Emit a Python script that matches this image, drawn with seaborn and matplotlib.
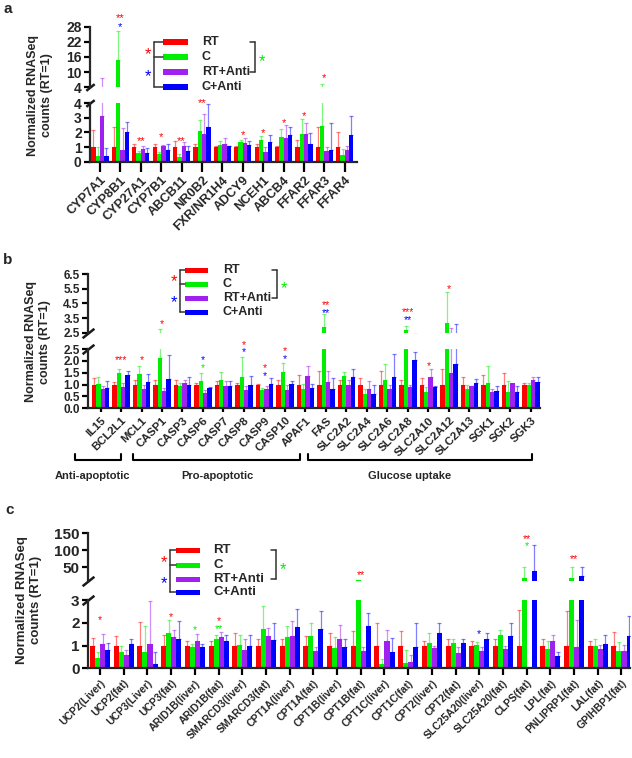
import numpy as np
import pandas as pd
import matplotlib
matplotlib.use("Agg")
import matplotlib.pyplot as plt
import matplotlib.transforms as mtransforms
from matplotlib.lines import Line2D
from matplotlib.patches import Rectangle
import seaborn as sns

# groups and colours
groups = ["RT", "C", "RT+Anti", "C+Anti"]
colors = ["#FF0000", "#00EE00", "#A020F0", "#0000FF"]

# ---- panel a : bile acid genes (mean, and mean+SD as *_hi)
genes_a = ["CYP7A1", "CYP8B1", "CYP27A1", "CYP7B1", "ABCB11", "NR0B2", "FXR/NR1H4",
           "ADCY9", "NCEH1", "ABCB4", "FFAR2", "FFAR3", "FFAR4"]
rt_a = [1.0] * 13
rt_a_hi = [2.17, 2.4, 1.2, 1.2, 1.4, 1.2, 1.1, 1.1, 1.2, 1.1, 1.48, 2.4, 2.03]
c_a = [0.4, 14.8, 0.6, 0.52, 0.3, 2.12, 1.12, 1.32, 1.48, 1.66, 1.9, 2.44, 0.45]
c_a_hi = [1.0, 26.4, 0.75, 0.65, 0.5, 2.85, 1.45, 1.5, 1.77, 2.24, 2.9, 5.4, 0.85]
rta_a = [3.15, 0.8, 0.85, 1.05, 1.08, 1.9, 1.18, 1.28, 0.69, 1.62, 1.9, 0.75, 0.8]
rta_a_hi = [7.7, 2.3, 1.05, 1.15, 1.35, 3.3, 1.65, 1.65, 1.0, 2.5, 2.67, 1.0, 1.07]
ca_a = [0.38, 2.02, 0.6, 0.8, 0.7, 2.4, 1.05, 1.12, 1.37, 1.8, 1.2, 0.8, 1.83]
ca_a_hi = [0.95, 2.75, 0.95, 1.2, 1.05, 3.95, 1.1, 1.45, 1.83, 2.4, 1.94, 2.67, 3.1]
stars_a = [("CYP8B1", "**", "RT", "hi", 32.6), ("CYP8B1", "*", "C+Anti", "hi", 29.3),
           ("CYP27A1", "**", "RT", "lo", 1.62), ("CYP7B1", "*", "RT", "lo", 1.9),
           ("ABCB11", "**", "RT", "lo", 1.62), ("NR0B2", "**", "RT", "lo", 4.27),
           ("ADCY9", "*", "RT", "lo", 2.05), ("NCEH1", "*", "RT", "lo", 2.22),
           ("ABCB4", "*", "RT", "lo", 2.86), ("FFAR2", "*", "RT", "lo", 3.36),
           ("FFAR3", "*", "RT", "hi", 8.9)]

# ---- panel b : apoptosis / glucose uptake genes
genes_b = ["IL15", "BCL2L1", "MCL1", "CASP1", "CASP3", "CASP6", "CASP7", "CASP8", "CASP9",
           "CASP10", "APAF1", "FAS", "SLC2A2", "SLC2A4", "SLC2A6", "SLC2A8", "SLC2A10",
           "SLC2A12", "SLC2A13", "SGK1", "SGK2", "SGK3"]
rt_b = [1.0] * 22
rt_b_hi = [1.28, 1.1, 1.2, 1.2, 1.2, 1.07, 1.14, 1.07, 1.03, 1.2, 1.42, 1.57, 1.2, 1.28,
           1.57, 1.2, 1.28, 1.67, 1.3, 1.42, 1.5, 1.07]
c_b = [1.02, 1.48, 1.45, 2.12, 0.95, 1.17, 1.18, 1.3, 0.77, 1.52, 0.82, 2.91, 1.35, 0.62,
       1.18, 2.68, 0.67, 3.14, 0.83, 1.07, 0.7, 1.0]
c_b_hi = [1.33, 1.64, 1.8, 2.75, 1.07, 1.5, 1.52, 2.18, 0.85, 1.93, 1.03, 3.76, 1.52, 0.81,
          1.88, 2.96, 0.9, 5.27, 1.0, 1.78, 1.14, 1.07]
rta_b = [0.8, 0.9, 0.83, 0.75, 1.05, 0.65, 0.95, 0.78, 0.8, 0.78, 1.35, 1.1, 1.0, 0.82,
         0.82, 0.88, 1.32, 1.48, 0.92, 0.7, 1.07, 1.18]
rta_b_hi = [0.93, 1.07, 1.0, 0.85, 1.2, 0.78, 1.14, 0.93, 0.93, 1.0, 1.8, 1.57, 1.2, 1.14,
            1.0, 1.0, 1.64, 2.8, 0.93, 0.81, 1.07, 1.33]
ca_b = [0.87, 1.4, 1.1, 1.25, 1.0, 0.85, 0.95, 1.0, 1.02, 1.02, 0.87, 0.8, 1.3, 0.62,
        1.32, 2.02, 0.9, 1.85, 1.07, 0.72, 0.7, 1.1]
ca_b_hi = [1.14, 1.57, 1.45, 2.24, 1.33, 0.88, 1.14, 1.38, 1.28, 1.17, 1.03, 1.28, 1.67, 1.0,
           2.28, 2.38, 0.93, 3.1, 1.24, 0.95, 0.93, 1.33]
stars_b = [("BCL2L1", "***", "RT", "lo", 2.18), ("MCL1", "*", "RT", "lo", 2.18),
           ("CASP1", "*", "RT", "hi", 3.32), ("CASP6", "*", "C+Anti", "lo", 2.16),
           ("CASP6", "*", "C", "lo", 1.81), ("CASP8", "*", "RT", "lo", 2.8),
           ("CASP8", "*", "C+Anti", "lo", 2.49), ("CASP9", "*", "RT", "lo", 1.82),
           ("CASP9", "*", "C+Anti", "lo", 1.5), ("CASP10", "*", "RT", "lo", 2.53),
           ("CASP10", "*", "C+Anti", "lo", 2.2), ("FAS", "**", "RT", "hi", 4.58),
           ("FAS", "**", "C+Anti", "hi", 4.03), ("SLC2A8", "***", "RT", "hi", 4.08),
           ("SLC2A8", "**", "C+Anti", "hi", 3.53), ("SLC2A10", "*", "RT", "lo", 1.91),
           ("SLC2A12", "*", "RT", "hi", 5.65)]
categories_b = ["Anti-apoptotic", "Pro-apoptotic", "Glucose uptake"]

# ---- panel c : thermogenesis / lipid genes
genes_c = ["UCP2(Liver)", "UCP2(fat)", "UCP3(Liver)", "UCP3(fat)", "ARID1B(liver)",
           "ARID1B(fat)", "SMARCD3(liver)", "SMARCD3(fat)", "CPT1A(liver)", "CPT1A(fat)",
           "CPT1B(liver)", "CPT1B(fat)", "CPT1C(liver)", "CPT1C(fat)", "CPT2(liver)",
           "CPT2(fat)", "SLC25A20(liver)", "SLC25A20(fat)", "CLPS(fat)", "LPL(fat)",
           "PNLIPRP1(fat)", "LAL(fat)", "GPIHBP1(fat)"]
rt_c = [1.0] * 23
rt_c_hi = [1.34, 1.41, 2.05, 1.45, 1.18, 1.18, 1.56, 1.3, 1.3, 1.41, 1.53, 1.62, 1.97, 1.62,
           1.18, 1.3, 1.22, 1.3, 2.55, 1.3, 2.5, 1.22, 1.58]
c_c = [0.45, 0.73, 0.73, 1.55, 0.95, 1.27, 1.03, 1.72, 1.38, 1.42, 0.88, 12.0, 0.19, 0.25,
       1.12, 1.1, 1.03, 1.46, 17.6, 0.83, 17.6, 0.98, 0.76]
c_c_hi = [0.73, 1.0, 1.85, 2.1, 1.08, 1.45, 1.45, 2.72, 1.85, 1.97, 1.39, 12.0, 0.41, 0.8,
          1.53, 1.3, 1.15, 1.7, 51.8, 1.2, 50.0, 1.28, 1.15]
rta_c = [1.05, 0.57, 1.06, 1.37, 1.22, 1.37, 0.8, 1.43, 1.42, 0.77, 1.28, 0.77, 1.19, 0.29,
         0.87, 0.66, 0.76, 0.85, 0.0, 1.2, 0.95, 0.85, 0.76]
rta_c_hi = [1.5, 0.8, 2.95, 1.7, 1.5, 1.58, 1.27, 1.75, 2.07, 0.92, 1.9, 0.92, 1.69, 0.6,
            0.98, 0.92, 0.92, 0.98, 0.0, 1.45, 2.1, 1.02, 1.02]
ca_c = [0.82, 1.06, 0.17, 1.27, 0.93, 1.22, 1.0, 1.24, 1.82, 1.72, 0.93, 1.87, 0.7, 0.92,
        1.53, 1.1, 1.3, 1.4, 40.0, 0.54, 24.4, 1.05, 1.42]
ca_c_hi = [1.12, 1.3, 0.7, 2.06, 1.05, 1.45, 1.47, 1.97, 2.6, 2.53, 1.27, 2.45, 1.32, 1.97,
           2.0, 1.3, 1.53, 1.97, 115.6, 0.7, 51.8, 1.45, 2.28]
stars_c = [("UCP2(Liver)", "*", "RT", "lo", 2.26), ("UCP3(fat)", "*", "RT", "lo", 2.37),
           ("ARID1B(liver)", "*", "C", "lo", 1.82), ("ARID1B(fat)", "*", "RT", "lo", 2.22),
           ("ARID1B(fat)", "**", "C", "lo", 1.87), ("CPT1B(fat)", "**", "RT", "hi", 35.3),
           ("SLC25A20(liver)", "*", "C+Anti", "lo", 1.65), ("CLPS(fat)", "**", "RT", "hi", 143),
           ("CLPS(fat)", "*", "C", "hi", 120.6), ("PNLIPRP1(fat)", "**", "RT", "hi", 84)]

ylabel = "Normalized RNASeq\ncounts (RT=1)"

sns.set_theme(style="ticks")
plt.rcParams["font.family"] = ["Liberation Sans", "DejaVu Sans"]
plt.rcParams["font.weight"] = "bold"
plt.rcParams["axes.linewidth"] = 1.6

W, H = 632, 758
fig = plt.figure(figsize=(W / 100, H / 100), dpi=100)
# pixel coordinates, origin top-left
pix = mtransforms.Affine2D().scale(1 / W, -1 / H).translate(0, 1) + fig.transFigure


def px_axes(x0, y0, x1, y1):
    return fig.add_axes([x0 / W, 1 - y1 / H, (x1 - x0) / W, (y1 - y0) / H])


def draw_bars(ax, genes, means, his):
    df = pd.DataFrame({"gene": genes * 4,
                       "group": np.repeat(groups, len(genes)),
                       "value": np.concatenate(means)})
    sns.barplot(data=df, x="gene", y="value", hue="group", order=genes, hue_order=groups,
                palette=colors, width=0.85, errorbar=None, saturation=1, legend=False,
                linewidth=0, ax=ax)
    bars = list(ax.containers)[:4]
    for cont, m, hi, col in zip(bars, means, his, colors):
        xs = np.array([p.get_x() + p.get_width() / 2 for p in cont])
        m = np.asarray(m, float)
        hi = np.asarray(hi, float)
        keep = hi > m
        ax.errorbar(xs[keep], m[keep], yerr=[np.zeros(keep.sum()), (hi - m)[keep]],
                    fmt="none", ecolor=col, alpha=0.5, elinewidth=0.9, capsize=1.2,
                    capthick=0.9)
    ax.set_xlabel("")
    ax.set_ylabel("")


def panel(genes, means, his, box_hi, box_lo, xlim, ylim_hi, ylim_lo, yt_hi, yt_lo,
          fmt, tick_fs, xlab_fs, xtick_len, brk):
    ax_hi = px_axes(*box_hi)
    ax_lo = px_axes(*box_lo)
    for ax, yl, yt in ((ax_hi, ylim_hi, yt_hi), (ax_lo, ylim_lo, yt_lo)):
        draw_bars(ax, genes, means, his)
        ax.set_xlim(*xlim)
        ax.set_ylim(*yl)
        ax.set_yticks(yt)
        ax.set_yticklabels([fmt.format(v) for v in yt], fontsize=tick_fs, fontweight="bold")
        ax.tick_params(axis="y", length=4, width=1.6, pad=2, color="black")
        ax.set_facecolor("none")
        sns.despine(ax=ax)
    ax_hi.spines["bottom"].set_visible(False)
    ax_hi.tick_params(axis="x", bottom=False, labelbottom=False)
    ax_lo.set_xticks(range(len(genes)))
    ax_lo.set_xticklabels(genes, rotation=45, ha="right", rotation_mode="anchor",
                          fontsize=xlab_fs, fontweight="bold")
    ax_lo.tick_params(axis="x", length=xtick_len, width=1.6, pad=2, color="black")
    # axis break marks
    kw = dict(marker=[(-1, -0.8), (1, 0.8)], markersize=brk, mew=1.8, color="k",
              linestyle="none", clip_on=False)
    ax_hi.plot([0], [0], transform=ax_hi.transAxes, **kw)
    ax_lo.plot([0], [1], transform=ax_lo.transAxes, **kw)
    return ax_hi, ax_lo


def add_stars(ax_hi, ax_lo, genes, stars, fs):
    for gene, s, grp, where, y in stars:
        ax = ax_hi if where == "hi" else ax_lo
        tr = mtransforms.offset_copy(ax.transData, fig=fig, y=-0.575 * fs, units="points")
        ax.text(genes.index(gene), y, s, color=colors[groups.index(grp)], fontsize=fs,
                fontweight="normal", ha="center", va="baseline", transform=tr)


def star_at(x, y, col, fs):
    fig.text(x, y + 0.575 * fs * 100 / 72, "*", color=col, fontsize=fs, fontweight="normal",
             ha="center", va="baseline", transform=pix)


def legend(x0, x1, ys, h, tx, lb, rb, fs=9, sfs=12):
    for y, col, g in zip(ys, colors, groups):
        fig.add_artist(Rectangle((x0, y - h / 2), x1 - x0, h, transform=pix, color=col, lw=0))
        fig.text(tx, y, g, transform=pix, va="center", ha="left", fontsize=fs,
                 fontweight="bold")
    lk = dict(transform=pix, color="#333333", lw=1.1)
    fig.add_artist(Line2D([lb, lb], [ys[0], ys[3]], **lk))
    for y in (ys[0], ys[1], ys[3]):
        fig.add_artist(Line2D([lb, x0], [y, y], **lk))
    fig.add_artist(Line2D([rb, rb], [ys[0], ys[2]], **lk))
    for y in (ys[0], ys[2]):
        fig.add_artist(Line2D([rb - 5, rb], [y, y], **lk))
    star_at(lb - 6, (ys[0] + ys[1]) / 2, colors[0], sfs)
    star_at(lb - 6, (ys[1] + ys[3]) / 2, colors[3], sfs)
    star_at(rb + 7, (ys[0] + ys[2]) / 2, colors[1], sfs)


# ---------------- panel a
a_hi, a_lo = panel(genes_a, [rt_a, c_a, rta_a, ca_a], [rt_a_hi, c_a_hi, rta_a_hi, ca_a_hi],
                   (90, 26.7, 357, 87.3), (90, 103.3, 357, 161.7), (-0.49, 12.6),
                   (4, 28), (0, 4), [4, 10, 16, 22, 28], [0, 1, 2, 3, 4], "{:g}",
                   10, 9.2, 7, 6)
add_stars(a_hi, a_lo, genes_a, stars_a, 8)
legend(163, 188, [42, 57, 72, 87], 6, 202, 154, 255)
fig.text(40, 95, ylabel, transform=pix, rotation=90, ha="center", va="center",
         multialignment="center", fontsize=9, fontweight="bold")
fig.text(3, 2, "a", transform=pix, ha="left", va="top", fontsize=11, fontweight="bold")

# ---------------- panel b
b_hi, b_lo = panel(genes_b, [rt_b, c_b, rta_b, ca_b], [rt_b_hi, c_b_hi, rta_b_hi, ca_b_hi],
                   (88, 274, 540, 332.7), (88, 349, 540, 408.3), (-0.61, 21.44),
                   (2.5, 6.5), (0, 2.5), [2.5, 3.5, 4.5, 5.5, 6.5],
                   [0, 0.5, 1.0, 1.5, 2.0, 2.5], "{:.1f}", 8.5, 8.2, 3, 8.5)
add_stars(b_hi, b_lo, genes_b, stars_b, 7.5)
legend(185, 208, [270, 284, 298, 312], 5, 222.7, 180, 276.7)
fig.text(38, 342, ylabel, transform=pix, rotation=90, ha="center", va="center",
         multialignment="center", fontsize=9, fontweight="bold")
fig.text(3, 253, "b", transform=pix, ha="left", va="top", fontsize=11, fontweight="bold")

# category brackets under panel b
btr = mtransforms.blended_transform_factory(b_lo.transData, pix)
for name, (s0, s1), cx in zip(categories_b, [(-1.25, 1.0), (1.6, 9.75), (10.1, 21.05)],
                              [-0.37, 5.68, 15.1]):
    fig.add_artist(Line2D([s0, s0, s1, s1], [454, 460, 460, 454], transform=btr,
                          color="black", lw=1.5))
    fig.text(cx, 476, name, transform=btr, ha="center", va="center", fontsize=8,
             fontweight="bold")

# ---------------- panel c
c_hi, c_lo = panel(genes_c, [rt_c, c_c, rta_c, ca_c], [rt_c_hi, c_c_hi, rta_c_hi, ca_c_hi],
                   (88, 533.3, 630, 580.9), (88, 600, 630, 668.3), (-0.51, 22.36),
                   (10, 150), (0, 3), [50, 100, 150], [0, 1, 2, 3], "{:g}",
                   11, 7.5, 5, 8.5)
add_stars(c_hi, c_lo, genes_c, stars_c, 7.5)
legend(176, 200, [550, 565, 579, 592], 5, 213, 170, 275.7, fs=9.5)
fig.text(29, 600, ylabel, transform=pix, rotation=90, ha="center", va="center",
         multialignment="center", fontsize=9.5, fontweight="bold")
fig.text(5, 503, "c", transform=pix, ha="left", va="top", fontsize=11, fontweight="bold")

fig.savefig("out.png", dpi=100, facecolor="white")
